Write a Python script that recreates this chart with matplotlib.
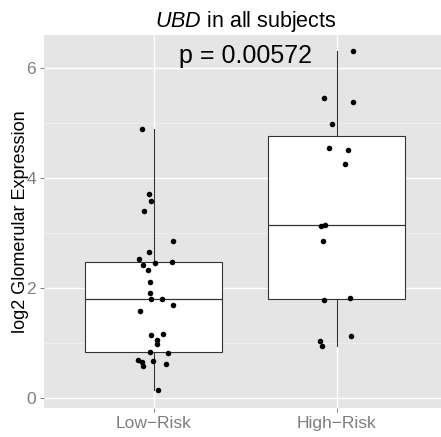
import matplotlib
matplotlib.use("Agg")
import matplotlib.pyplot as plt
from matplotlib.ticker import MultipleLocator

plt.rcParams['font.family'] = ['Liberation Sans', 'DejaVu Sans']
plt.rcParams['mathtext.fontset'] = 'custom'
plt.rcParams['mathtext.it'] = 'Liberation Sans:italic'
plt.rcParams['mathtext.rm'] = 'Liberation Sans'

groups = ["Low\u2212Risk", "High\u2212Risk"]

low_risk = [4.885, 3.70, 3.57, 3.39, 2.85, 2.65, 2.52, 2.41, 2.45, 2.47,
            2.32, 2.10, 1.90, 1.80, 1.80, 1.69, 1.58, 1.15, 1.16, 1.06,
            0.98, 0.83, 0.81, 0.69, 0.65, 0.59, 0.67, 0.62, 0.14]
low_jitter = [-0.062, -0.029, -0.018, -0.055, 0.104, -0.027, -0.082, -0.058, 0.004, 0.100,
              -0.034, -0.023, -0.023, -0.014, 0.047, 0.104, -0.076, -0.016, 0.049, 0.016,
              0.020, -0.023, 0.075, -0.089, -0.062, -0.060, -0.007, 0.065, 0.022]

high_risk = [6.30, 5.45, 5.38, 4.98, 4.54, 4.50, 4.25, 3.13, 3.14, 2.85,
             1.78, 1.81, 1.12, 1.03, 0.94]
high_jitter = [0.087, -0.071, 0.089, -0.027, -0.042, 0.060, 0.047, -0.086, -0.065, -0.075,
               -0.068, 0.073, 0.078, -0.093, -0.079]

p_label = "p = 0.00572"


def main():
    fig = plt.figure(figsize=(4.41, 4.37), dpi=100)
    ax = fig.add_axes([44 / 441, 29 / 437, 1 - 44 / 441, (408 - 35) / 437])
    ax.set_facecolor("#E5E5E5")
    for s in ax.spines.values():
        s.set_visible(False)

    ax.set_xlim(0.4, 2.569)
    ax.set_ylim(-0.182, 6.595)
    ax.yaxis.set_major_locator(MultipleLocator(2))
    ax.yaxis.set_minor_locator(MultipleLocator(1))
    ax.grid(which="major", color="white", lw=1.0)
    ax.grid(which="minor", axis="y", color="#F2F2F2", lw=0.5)
    ax.set_axisbelow(True)

    box_color = "#333333"
    ax.boxplot([low_risk, high_risk], positions=[1, 2], widths=0.75,
               patch_artist=True, showcaps=False, showfliers=False, whis=1.5,
               boxprops=dict(facecolor="white", edgecolor=box_color, lw=0.8),
               medianprops=dict(color=box_color, lw=0.9),
               whiskerprops=dict(color=box_color, lw=0.8))

    ax.scatter([1 + j for j in low_jitter], low_risk, s=16, color="black", zorder=3, lw=0)
    ax.scatter([2 + j for j in high_jitter], high_risk, s=16, color="black", zorder=3, lw=0)

    ax.text(1.5, 6.08, p_label, fontsize=18, ha="center", va="baseline")

    ax.set_xticks([1, 2])
    ax.set_xticklabels(groups)
    ax.set_yticks([0, 2, 4, 6])
    ax.tick_params(which="major", length=3.2, width=0.7, color="#7F7F7F",
                   labelcolor="#7F7F7F", labelsize=12.5, pad=2.5)
    ax.tick_params(which="minor", length=0)

    ax.set_ylabel("log2 Glomerular Expression", fontsize=13)
    ax.yaxis.set_label_coords(-0.038, 0.5)

    fig.text(0.557, 1 - 27 / 437, r"$\it{UBD}$ in all subjects", fontsize=15.5,
             ha="center", va="baseline")

    fig.savefig("out.png", dpi=100)
    plt.close("all")


if __name__ == '__main__':
    main()
